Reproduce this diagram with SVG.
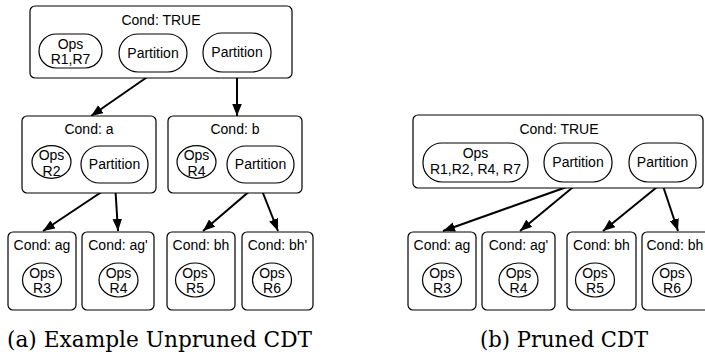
<svg xmlns="http://www.w3.org/2000/svg" width="705" height="355" viewBox="0 0 705 355">
<defs>
<style>
.box{fill:#fff;stroke:#000;stroke-width:1.2}
.pill{fill:#fff;stroke:#000;stroke-width:1.2}
.t{font-family:"Liberation Sans",Arial,sans-serif;font-size:14px;text-anchor:middle;fill:#000}
.cap{font-family:"DejaVu Serif","Liberation Serif",serif;font-size:22px;fill:#000}
.arr{stroke:#000;stroke-width:2;fill:none;marker-end:url(#ah)}
</style>
<marker id="ah" markerUnits="userSpaceOnUse" markerWidth="13" markerHeight="10" refX="12" refY="4.75" orient="auto">
<path d="M0,0 L12,4.75 L0,9.5 z" fill="#000"/>
</marker>
</defs>
<rect width="705" height="355" fill="#fff"/>

<g id="connectors">
<line class="arr" x1="153" y1="73" x2="91" y2="116"/>
<line class="arr" x1="237" y1="72" x2="237" y2="116"/>
<line class="arr" x1="115" y1="183" x2="43" y2="231"/>
<line class="arr" x1="115" y1="183" x2="118" y2="231"/>
<line class="arr" x1="259" y1="183" x2="203" y2="231"/>
<line class="arr" x1="259" y1="183" x2="278" y2="231"/>
<line class="arr" x1="578" y1="183" x2="443" y2="231"/>
<line class="arr" x1="578" y1="183" x2="520" y2="231"/>
<line class="arr" x1="662" y1="183" x2="603" y2="231"/>
<line class="arr" x1="662" y1="183" x2="678" y2="231"/>
</g>

<!-- (a) -->
<g id="a-root">
<rect class="box" x="30" y="6" width="262" height="72" rx="5"/>
<text class="t" x="161" y="25">Cond: TRUE</text>
<rect class="pill" x="39" y="34" width="63" height="34" rx="17"/>
<text class="t" x="70.5" y="48.5">Ops</text>
<text class="t" x="70.5" y="63.5">R1,R7</text>
<rect class="pill" x="119" y="34" width="68" height="38" rx="19"/>
<text class="t" x="153" y="58">Partition</text>
<rect class="pill" x="203" y="33" width="68" height="39" rx="19"/>
<text class="t" x="237" y="57">Partition</text>
</g>

<g id="a-cond-a">
<rect class="box" x="22" y="116" width="134" height="77" rx="5"/>
<text class="t" x="89" y="134">Cond: a</text>
<ellipse class="pill" cx="51.5" cy="162" rx="19.5" ry="16.3"/>
<text class="t" x="51.5" y="160">Ops</text>
<text class="t" x="51.5" y="175.5">R2</text>
<rect class="pill" x="81" y="146" width="67" height="37" rx="18.5"/>
<text class="t" x="114.5" y="169">Partition</text>
</g>

<g id="a-cond-b">
<rect class="box" x="168" y="116" width="134" height="77" rx="5"/>
<text class="t" x="235" y="134">Cond: b</text>
<ellipse class="pill" cx="196.5" cy="162" rx="19.5" ry="16.3"/>
<text class="t" x="196.5" y="160">Ops</text>
<text class="t" x="196.5" y="175.5">R4</text>
<rect class="pill" x="227" y="146" width="67" height="37" rx="18.5"/>
<text class="t" x="260.5" y="169">Partition</text>
</g>

<g id="a-ag">
<rect class="box" x="8" y="232" width="68" height="78" rx="5"/>
<text class="t" x="42" y="250">Cond: ag</text>
<ellipse class="pill" cx="42" cy="280" rx="19.5" ry="17"/>
<text class="t" x="42" y="277.5">Ops</text>
<text class="t" x="42" y="293">R3</text>
</g>
<g id="a-agp">
<rect class="box" x="82" y="232" width="72" height="78" rx="5"/>
<text class="t" x="118" y="250">Cond: ag'</text>
<ellipse class="pill" cx="118.5" cy="280" rx="19.5" ry="17"/>
<text class="t" x="118.5" y="277.5">Ops</text>
<text class="t" x="118.5" y="293">R4</text>
</g>
<g id="a-bh">
<rect class="box" x="167" y="232" width="68" height="78" rx="5"/>
<text class="t" x="201" y="250">Cond: bh</text>
<ellipse class="pill" cx="195" cy="280" rx="19.5" ry="17"/>
<text class="t" x="195" y="277.5">Ops</text>
<text class="t" x="195" y="293">R5</text>
</g>
<g id="a-bhp">
<rect class="box" x="242" y="232" width="71" height="78" rx="5"/>
<text class="t" x="277.5" y="250">Cond: bh'</text>
<ellipse class="pill" cx="272" cy="280" rx="19.5" ry="17"/>
<text class="t" x="272" y="277.5">Ops</text>
<text class="t" x="272" y="293">R6</text>
</g>

<!-- (b) -->
<g id="b-root">
<rect class="box" x="413" y="115" width="290" height="73" rx="5"/>
<text class="t" x="559" y="134">Cond: TRUE</text>
<rect class="pill" x="423" y="143" width="105" height="39" rx="19"/>
<text class="t" x="475.5" y="158">Ops</text>
<text class="t" x="475.5" y="174">R1,R2, R4, R7</text>
<rect class="pill" x="544" y="143" width="68" height="39" rx="19"/>
<text class="t" x="578" y="167">Partition</text>
<rect class="pill" x="629" y="143" width="67" height="39" rx="19"/>
<text class="t" x="662.5" y="167">Partition</text>
</g>

<g id="b-ag">
<rect class="box" x="408" y="232" width="68" height="78" rx="5"/>
<text class="t" x="442" y="250">Cond: ag</text>
<ellipse class="pill" cx="442" cy="280" rx="19.5" ry="17"/>
<text class="t" x="442" y="277.5">Ops</text>
<text class="t" x="442" y="293">R3</text>
</g>
<g id="b-agp">
<rect class="box" x="482" y="232" width="73" height="78" rx="5"/>
<text class="t" x="518.5" y="250">Cond: ag'</text>
<ellipse class="pill" cx="518.5" cy="280" rx="19.5" ry="17"/>
<text class="t" x="518.5" y="277.5">Ops</text>
<text class="t" x="518.5" y="293">R4</text>
</g>
<g id="b-bh">
<rect class="box" x="567" y="232" width="69" height="78" rx="5"/>
<text class="t" x="601.5" y="250">Cond: bh</text>
<ellipse class="pill" cx="595" cy="280" rx="19.5" ry="17"/>
<text class="t" x="595" y="277.5">Ops</text>
<text class="t" x="595" y="293">R5</text>
</g>
<g id="b-bhp">
<rect class="box" x="642" y="232" width="71" height="78" rx="5"/>
<text x="646.5" y="250" style="font-family:'Liberation Sans',Arial,sans-serif;font-size:14px;fill:#000">Cond: bh</text>
<ellipse class="pill" cx="672" cy="280" rx="19.5" ry="17"/>
<text class="t" x="672" y="277.5">Ops</text>
<text class="t" x="672" y="293">R6</text>
</g>

<g id="captions">
<text class="cap" x="7" y="347" textLength="305" lengthAdjust="spacingAndGlyphs">(a) Example Unpruned CDT</text>
<text class="cap" x="480" y="347" textLength="168" lengthAdjust="spacingAndGlyphs">(b) Pruned CDT</text>
</g>
</svg>
